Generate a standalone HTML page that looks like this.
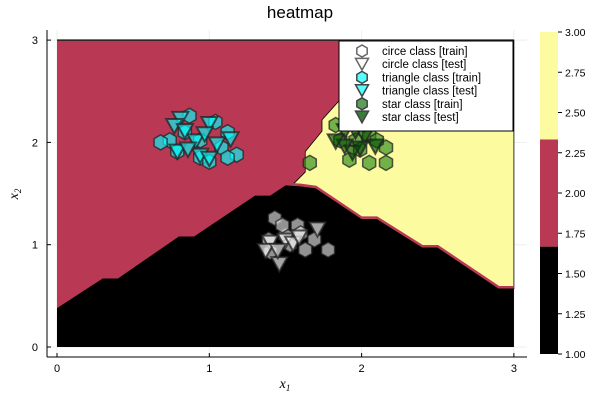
<!DOCTYPE html>
<html><head><meta charset="utf-8">
<style>
body{margin:0;background:#fff;}
svg{display:block;font-family:"Liberation Sans","DejaVu Sans",sans-serif;}
</style></head>
<body>
<svg id="chart" width="600" height="400">
<text x="300" y="18" font-size="17" text-anchor="middle">heatmap</text>
<g id="plot"></g>
<g id="cbar"></g>
</svg>
<script>
const xTicks=[0,1,2,3];
const yTicks=[0,1,2,3];
const cbTicks=["1.00","1.25","1.50","1.75","2.00","2.25","2.50","2.75","3.00"];
const cbLevels=[1,1.667,2.333,3];
const cbColors=["#000000","#b93955","#fcfb9f"];
// decision boundaries (data coords)
const blackTop=[[0,0.38],[0.3,0.67],[0.4,0.67],[0.8,1.08],[0.9,1.08],[1.3,1.48],[1.4,1.48],[1.5,1.58],[1.6,1.57],[1.7,1.55],[2.0,1.25],[2.1,1.25],[2.4,0.97],[2.5,0.97],[2.9,0.57],[3,0.57]];
const yellowRegion=[[1.55,1.59],[1.63,1.71],[1.63,1.91],[1.74,2.11],[1.74,2.22],[1.89,2.47],[1.92,3],[3,3],[3,0.57],[2.9,0.57],[2.5,0.97],[2.4,0.97],[2.1,1.25],[2.0,1.25],[1.7,1.56],[1.6,1.58]];
const circleTrainX=[1.43,1.58,1.69,1.78,1.63,1.50,1.39,1.60,1.53,1.40,1.48];
const circleTrainY=[1.26,1.19,1.05,0.95,0.95,1.09,1.05,1.11,1.00,0.93,1.19];
const circleTestX=[1.71,1.46,1.40,1.50,1.55,1.37,1.45,1.59];
const circleTestY=[1.16,0.82,1.03,1.05,1.02,0.95,0.95,1.08];
const triTrainX=[0.87,1.18,0.74,0.94,1.04,1.12,0.68,0.79,1.00,1.08,0.84,0.94,1.12];
const triTrainY=[2.26,1.88,2.02,1.85,2.20,2.10,2.00,1.91,1.81,1.95,2.10,2.02,1.85];
const triTestX=[0.81,1.00,0.77,0.84,0.91,1.05,1.14,0.79,0.94,1.00,0.86,0.97];
const triTestY=[2.24,2.19,2.17,2.12,2.02,1.99,2.04,1.92,1.88,1.85,1.94,2.09];
const starTrainX=[1.66,1.92,2.05,2.16,2.16,1.96,1.83,2.05,1.86,1.99,2.10];
const starTrainY=[1.80,1.83,1.80,1.80,1.95,2.02,2.17,2.07,2.02,1.93,2.02];
const starTestX=[1.89,1.96,2.02,1.89,1.99,2.09,1.83,2.02,1.94];
const starTestY=[2.12,2.12,2.07,1.97,1.95,1.97,2.02,2.19,1.91];

const NS="http://www.w3.org/2000/svg";
const sx=v=>57+152.3*v, sy=v=>347-102.3*v;
const plot=document.getElementById('plot'), cbar=document.getElementById('cbar');
function mk(tag,attrs,parent){const e=document.createElementNS(NS,tag);for(const k in attrs)e.setAttribute(k,attrs[k]);(parent||plot).appendChild(e);return e;}
// grid
xTicks.forEach(t=>{const l=mk('line',{x1:sx(t),x2:sx(t),y1:30,y2:357,stroke:'#eee'});

});
yTicks.forEach(t=>{const l=mk('line',{x1:47,x2:527,y1:sy(t),y2:sy(t),stroke:'#eee'});

});
// regions
let r=mk('rect',{x:sx(0),y:sy(3),width:sx(3)-sx(0),height:sy(0)-sy(3),fill:cbColors[1]});


let pts=blackTop.map(p=>sx(p[0])+','+sy(p[1])).join(' ')+' '+sx(3)+','+sy(0)+' '+sx(0)+','+sy(0);
r=mk('polygon',{points:pts,fill:cbColors[0]});


r=mk('polygon',{points:yellowRegion.map(p=>sx(p[0])+','+sy(p[1])).join(' '),fill:cbColors[2],stroke:'#000','stroke-width':0.8});


r=mk('polyline',{points:blackTop.slice(7).map(p=>sx(p[0])+','+(sy(p[1])-1.5)).join(' '),fill:'none',stroke:'#b93955','stroke-width':2.5});


r=mk('line',{x1:sx(0),x2:sx(3),y1:sy(3),y2:sy(3),stroke:'#222','stroke-width':1.5});


// markers
function hex(cx,cy,rad){let s=[];for(let i=0;i<6;i++){const a=Math.PI/3*i+Math.PI/6;s.push((cx+rad*Math.cos(a)).toFixed(1)+','+(cy+rad*Math.sin(a)).toFixed(1));}return s.join(' ');}
function tri(cx,cy,s){return `${cx-s},${cy-s*0.75} ${cx+s},${cy-s*0.75} ${cx},${cy+s*1.05}`;}
function series(X,Y,shape,fill,name,sw){X.forEach((x,i)=>{const p=mk('polygon',{points:shape==='hex'?hex(sx(x),sy(Y[i]),7.5):tri(sx(x),sy(Y[i]),8),fill:fill,'fill-opacity':0.65,stroke:'#222','stroke-opacity':0.75,'stroke-width':sw});

});}
series(circleTrainX,circleTrainY,'hex','#e0e0e0','circle-train-point',1.5);
series(circleTestX,circleTestY,'tri','#ffffff','circle-test-point',2);
series(triTrainX,triTrainY,'hex','#00ffff','triangle-train-point',1.5);
series(triTestX,triTestY,'tri','#00ffff','triangle-test-point',2);
series(starTrainX,starTrainY,'hex','#2a8a1a','star-train-point',1.5);
series(starTestX,starTestY,'tri','#005000','star-test-point',2);
// axes
r=mk('line',{x1:47,x2:527,y1:357,y2:357,stroke:'#000'});


r=mk('line',{x1:47,x2:47,y1:30,y2:357,stroke:'#000'});


xTicks.forEach(t=>{mk('line',{x1:sx(t),x2:sx(t),y1:357,y2:353,stroke:'#000'});
const tx=mk('text',{x:sx(t),y:372,'font-size':11,'text-anchor':'middle'});tx.textContent=t;

});
yTicks.forEach(t=>{mk('line',{x1:47,x2:51,y1:sy(t),y2:sy(t),stroke:'#000'});
const tx=mk('text',{x:38,y:sy(t)+4,'font-size':11,'text-anchor':'end'});tx.textContent=t;

});
let lab=mk('text',{x:285,y:388,'font-size':14,'font-style':'italic','font-family':'Liberation Serif, serif','text-anchor':'middle'});
lab.innerHTML='x<tspan font-size="9" dy="3">1</tspan>';


lab=mk('text',{x:0,y:0,'font-size':14,'font-style':'italic','font-family':'Liberation Serif, serif','text-anchor':'middle',transform:'translate(18,194) rotate(-90)'});
lab.innerHTML='x<tspan font-size="9" dy="3">2</tspan>';


// legend
const lg=mk('g',{});


mk('rect',{x:339,y:41,width:174,height:90,fill:'#fff',stroke:'#000','stroke-width':1},lg);
const legNames=["circe class [train]","circle class [test]","triangle class [train]","triangle class [test]","star class [train]","star class [test]"];
const legFill=["#ffffff","#ffffff","#55ffff","#55ffff","#5aa05a","#3a7a3a"];
legNames.forEach((n,i)=>{const y=51+i*13.2;
const m=mk('polygon',{points:i%2==0?hex(362,y,6):tri(362,y-1,6.5),fill:legFill[i],stroke:i<2?'#666':'#444','stroke-width':1.5},lg);


const t=mk('text',{x:382,y:y+4,'font-size':11.5},lg);t.textContent=n;

});
// colorbar
const cy=v=>354-(v-1)*161;
for(let i=0;i<3;i++){const b=mk('rect',{x:540,y:cy(cbLevels[i+1]),width:18,height:cy(cbLevels[i])-cy(cbLevels[i+1]),fill:cbColors[i]},cbar);

}
cbTicks.forEach(t=>{const v=parseFloat(t);mk('line',{x1:558,x2:562,y1:cy(v),y2:cy(v),stroke:'#000'},cbar);
const tx=mk('text',{x:565,y:cy(v)+4,'font-size':10.5},cbar);tx.textContent=t;

});
</script>
</body></html>
